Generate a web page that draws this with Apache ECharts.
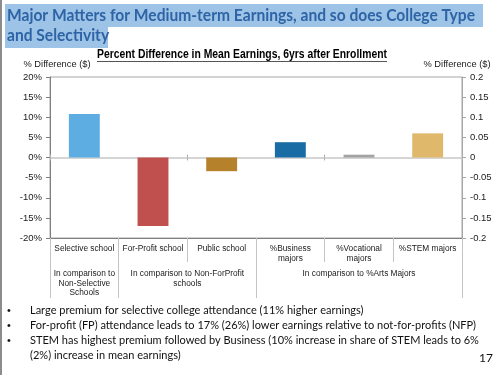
<!DOCTYPE html>
<html>
<head>
<meta charset="utf-8">
<script src="https://cdn.jsdelivr.net/npm/echarts@6/dist/echarts.min.js"></script>
<style>
html,body{margin:0;padding:0;background:#fff;}
#chart{width:500px;height:375px;}
</style>
</head>
<body>
<div id="chart"></div>
<script>
// ---- data ----
var categories = ['Selective school', 'For-Profit school', 'Public school', '%Business\nmajors', '%Vocational\nmajors', '%STEM majors'];
var values = [0.108, -0.170, -0.034, 0.038, 0.007, 0.060];
var barColors = ['#5DADE2', '#C0504D', '#B5812B', '#1A6CA4', '#A3A3A3', '#E0B86C'];
var groupLabels = ['In comparison to\nNon-Selective\nSchools', 'In comparison to Non-ForProfit\nschools', 'In comparison to %Arts Majors'];
var groupSizes = [1, 2, 3];
var yTicks = [-0.2, -0.15, -0.1, -0.05, 0, 0.05, 0.1, 0.15, 0.2];
var titleLines = ['Major Matters for Medium-term Earnings, and so does College Type', 'and Selectivity'];
var chartTitle = 'Percent Difference in Mean Earnings, 6yrs after Enrollment';
var axisName = '% Difference ($)';
var bullets = [
  'Large premium for selective college attendance (11% higher earnings)',
  'For-profit (FP) attendance leads to 17% (26%) lower earnings relative to not-for-profits (NFP)',
  'STEM has highest premium followed by Business (10% increase in share of STEM leads to 6%',
  '(2%) increase in mean earnings)'
];
var pageNumber = '17';

// ---- helpers ----
var mctx = document.createElement('canvas').getContext('2d');
function fitScale(text, font, target) {
  mctx.font = font;
  var w = mctx.measureText(text).width;
  return w > 0 ? target / w : 1;
}

// ---- build group axis (half-category points) ----
var n = categories.length;
var halfPts = [];
for (var k = 0; k <= 2 * n; k++) halfPts.push('');
var groupBoundaries = {0: true};
var labelIdx = {};
var start = 0;
groupSizes.forEach(function (s, gi) {
  var centerHalf = start * 2 + s;
  halfPts[centerHalf] = groupLabels[gi];
  labelIdx[centerHalf] = true;
  start += s;
  groupBoundaries[start * 2] = true;
});

var chart = echarts.init(document.getElementById('chart'), null, {renderer: 'canvas'});
var gridLeft = 50, gridRight = 38, gridTop = 77, gridBottom = 137;
var labelFont = 'Liberation Sans, Arial, sans-serif';
var titleFont = 'bold 17px Lato, "Open Sans", sans-serif';
var titleScale = fitScale(titleLines[0], titleFont, 468);
var subFont = 'bold 12.5px "Liberation Sans", Arial, sans-serif';
var subScale = fitScale(chartTitle, subFont, 290);

var option = {
  animation: false,
  backgroundColor: '#ffffff',
  grid: {left: gridLeft, right: gridRight, top: gridTop, bottom: gridBottom, show: true, borderColor: '#A6A6A6', borderWidth: 1, containLabel: false},
  xAxis: [
    {
      type: 'category', data: categories, position: 'bottom',
      axisLine: {onZero: false, lineStyle: {color: '#7F7F7F', width: 1}},
      axisTick: {show: true, length: 24, lineStyle: {color: '#C4C4C4'}},
      axisLabel: {fontFamily: labelFont, fontSize: 8.3, color: '#1a1a1a', margin: 5, lineHeight: 10.5, interval: 0},
      splitLine: {show: true, interval: function (i) { return i === 3; }, lineStyle: {color: '#C4C4C4', width: 1}}
    },
    {
      type: 'category', data: halfPts, position: 'bottom', boundaryGap: false,
      axisLine: {show: false, onZero: false},
      axisTick: {show: true, length: 60, interval: function (i) { return !!groupBoundaries[i]; }, lineStyle: {color: '#C4C4C4'}},
      axisLabel: {show: true, interval: function (i) { return !!labelIdx[i]; }, fontFamily: labelFont, fontSize: 8.3, color: '#1a1a1a', margin: 31, lineHeight: 9.5},
      splitLine: {show: false}
    },
    {
      type: 'category', data: categories, position: 'bottom',
      axisLine: {show: true, onZero: true, lineStyle: {color: '#C8C8C8', width: 1.5}},
      axisTick: {show: true, length: 3, lineStyle: {color: '#B0B0B0'}},
      axisLabel: {show: false}, splitLine: {show: false}
    },
    {
      type: 'category', data: categories, position: 'bottom',
      axisLine: {show: false, onZero: true},
      axisTick: {show: true, inside: true, length: 3, lineStyle: {color: '#B0B0B0'}},
      axisLabel: {show: false}, splitLine: {show: false}
    }
  ],
  yAxis: [
    {
      type: 'value', position: 'left', min: yTicks[0], max: yTicks[yTicks.length - 1], interval: 0.05,
      axisLine: {show: true, lineStyle: {color: '#7F7F7F'}},
      axisTick: {show: true, length: 4, lineStyle: {color: '#7F7F7F'}},
      axisLabel: {fontFamily: labelFont, fontSize: 9.5, color: '#1a1a1a', margin: 8,
        formatter: function (v) { return Math.round(v * 100) + '%'; }},
      splitLine: {show: false}
    },
    {
      type: 'value', position: 'right', min: yTicks[0], max: yTicks[yTicks.length - 1], interval: 0.05,
      axisLine: {show: true, lineStyle: {color: '#A6A6A6'}},
      axisTick: {show: true, length: 4, lineStyle: {color: '#A6A6A6'}},
      axisLabel: {fontFamily: labelFont, fontSize: 9.5, color: '#1a1a1a', margin: 8,
        formatter: function (v) { return String(parseFloat(v.toFixed(2))); }},
      splitLine: {show: false}
    }
  ],
  series: [{
    type: 'bar', xAxisIndex: 0, yAxisIndex: 0, barWidth: '45%',
    data: values.map(function (v, i) { return {value: v, itemStyle: {color: barColors[i]}}; })
  }],
  graphic: [
    {type: 'rect', left: 0, top: 0, shape: {width: 2, height: 375}, style: {fill: '#8C8C8C'}, silent: true},
    {type: 'rect', shape: {x: 5, y: 4, width: 478, height: 23}, style: {fill: '#9DC3E6'}, silent: true},
    {type: 'rect', shape: {x: 5, y: 27, width: 103, height: 21}, style: {fill: '#9DC3E6'}, silent: true},
    {type: 'text', x: 7, y: 16, scaleX: titleScale, style: {text: titleLines[0], fill: '#2E64A6', font: titleFont, textVerticalAlign: 'middle'}},
    {type: 'text', x: 7, y: 35.5, scaleX: titleScale, style: {text: titleLines[1], fill: '#2E64A6', font: titleFont, textVerticalAlign: 'middle'}},
    {type: 'text', x: 242, y: 55, scaleX: subScale, style: {text: chartTitle, fill: '#000', font: subFont, textAlign: 'center', textVerticalAlign: 'middle'}},
    {type: 'line', shape: {x1: 97, y1: 61.5, x2: 387, y2: 61.5}, style: {stroke: '#555', lineWidth: 1}},
    {type: 'text', x: 57, y: 64.5, style: {text: axisName, fill: '#1a1a1a', font: '9.3px "Liberation Sans", Arial, sans-serif', textAlign: 'center', textVerticalAlign: 'middle'}},
    {type: 'text', x: 457, y: 64.5, style: {text: axisName, fill: '#1a1a1a', font: '9.3px "Liberation Sans", Arial, sans-serif', textAlign: 'center', textVerticalAlign: 'middle'}}
  ].concat(bullets.map(function (b, i) {
    var ys = [310.7, 325.7, 340.7, 355.3];
    return {type: 'text', x: 30, y: ys[i], style: {text: b, fill: '#111', font: '11px Lato, "Open Sans", sans-serif', textVerticalAlign: 'middle'}};
  })).concat(bullets.slice(0, 3).map(function (b, i) {
    var ys = [310.7, 325.7, 340.7];
    return {type: 'text', x: 7, y: ys[i], style: {text: '\u2022', fill: '#111', font: '11px Arial, sans-serif', textVerticalAlign: 'middle'}};
  })).concat([
    {type: 'text', x: 486, y: 358, style: {text: pageNumber, fill: '#111', font: '12px Lato, "Open Sans", sans-serif', textAlign: 'center', textVerticalAlign: 'middle'}}
  ])
};
chart.setOption(option);
</script>
</body>
</html>
